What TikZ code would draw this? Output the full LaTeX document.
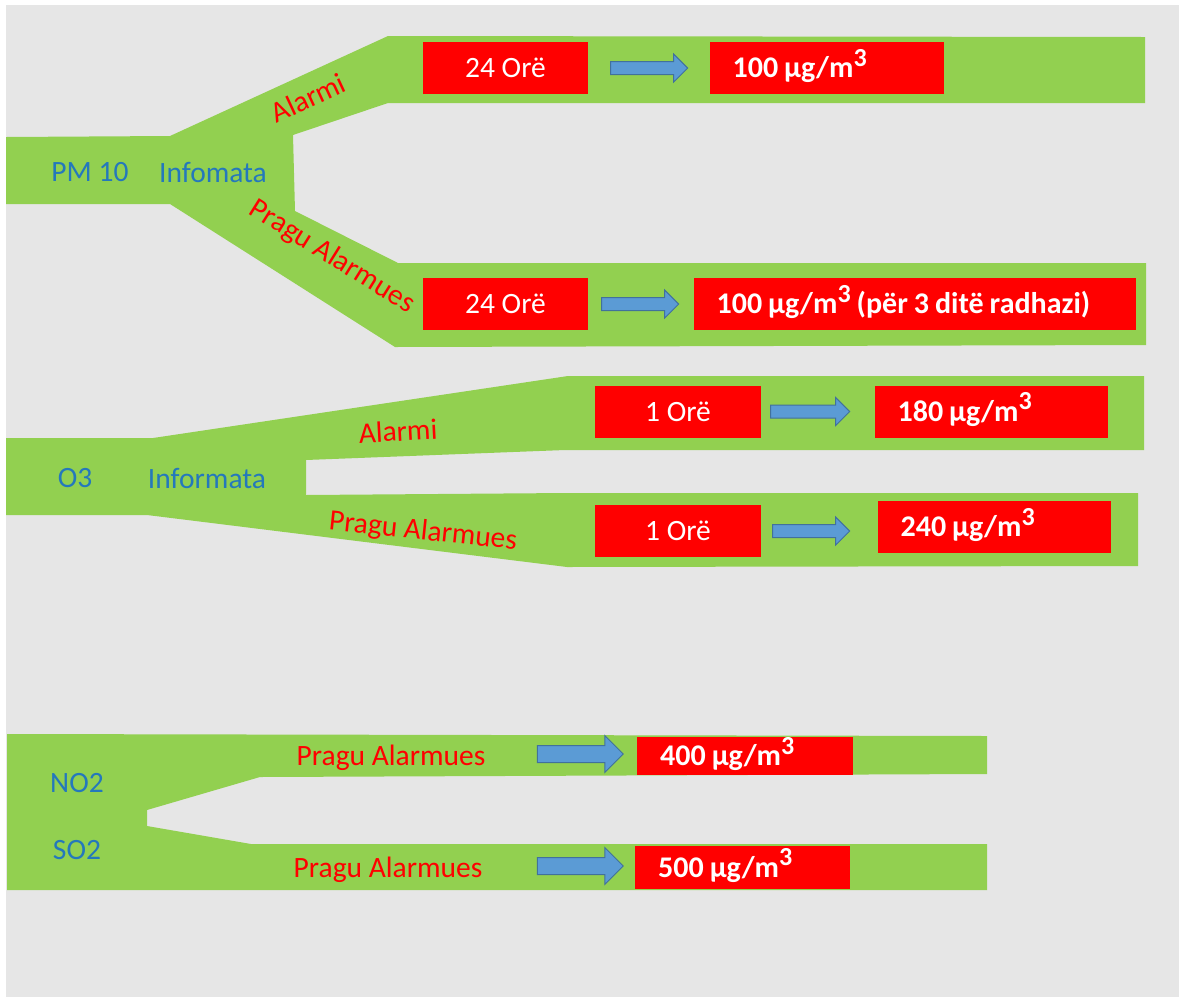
\documentclass[tikz,border=0pt]{standalone}
\usepackage{fontspec}
\setmainfont{Carlito}
\usetikzlibrary{positioning,shapes.arrows}

\definecolor{bandgreen}{HTML}{92D050}
\definecolor{boxred}{HTML}{FF0000}
\definecolor{labelblue}{HTML}{2478BC}
\definecolor{arrowfill}{HTML}{5B9BD5}
\definecolor{arrowline}{HTML}{41719C}
\definecolor{canvas}{HTML}{E6E6E6}

\newcommand{\cubed}{\raisebox{0.38em}{\fontsize{26}{26}\selectfont 3}}
\newcommand{\tightspace}{\spaceskip=0.2em\relax}

\begin{document}
\begin{tikzpicture}[
  x=1pt, y=-1pt,
  band/.style={fill=bandgreen},
  lbl/.style={font=\fontsize{29.5}{34}\selectfont, inner sep=0pt},
  gas/.style={lbl, text=labelblue},
  lvl/.style={lbl, text=boxred},
  tbox/.style={fill=boxred, text=white, minimum width=165pt, minimum height=52pt,
               inner sep=0pt, font=\fontsize{29.5}{34}\selectfont, text height=20pt, text depth=1pt},
  vbox/.style={fill=boxred, text=white, minimum height=52pt, inner xsep=23pt, inner ysep=0pt,
               align=left, font=\fontsize{30}{34}\selectfont\bfseries,
               execute at begin node=\tightspace, text height=20pt, text depth=1pt},
  arr/.style={single arrow, draw=arrowline, fill=arrowfill, line width=1pt, inner xsep=0pt,
              inner ysep=6pt, minimum height=77pt, single arrow head extend=7.5pt},
  bigarr/.style={arr, inner ysep=8pt, minimum height=86pt, single arrow head extend=10pt}
]
\useasboundingbox[fill=white] (0,0) rectangle (1179,997);
\fill[canvas] (6,5) rectangle (1179,997);

% green bands
\fill[band] (6,137) -- (170,136) -- (388,36) -- (1145,37) -- (1145,103) -- (388,103)
  -- (293,135) -- (295,211) -- (398,263) -- (1146,263) -- (1146,345) -- (395,347)
  -- (170,204) -- (6,204) -- cycle;
\fill[band] (6,438) -- (153,438) -- (568,376) -- (1144,376) -- (1144,450) -- (565,450)
  -- (306,460) -- (306,495) -- (568,493) -- (1138,493) -- (1138,566) -- (567,567)
  -- (147,515) -- (6,515) -- cycle;
\fill[band] (7,734) -- (987,736) -- (987,774) -- (260,777) -- (147,810) -- (147,826)
  -- (251,844) -- (987,844) -- (987,890) -- (7,890) -- cycle;

% PM 10
\node[gas] (pm) at (90,172) {PM 10};
\node[gas] (pmInfo) at (213,172) {Infomata};
\node[lvl, rotate=25] (pmAlarm) at (308,98) {Alarmi};
\node[lvl, rotate=-32] (pmPrag) at (332,257) {Pragu Alarmues};
\node[tbox] (pmT1) at (505.5,68) {24 Orë};
\node[arr, right=22pt of pmT1] (pmA1) {};
\node[vbox, text width=188pt, right=21pt of pmA1] (pmV1) {100 µg/m\cubed};
\node[tbox] (pmT2) at (505.5,304) {24 Orë};
\node[arr, right=13pt of pmT2] (pmA2) {};
\node[vbox, text width=396pt, right=14pt of pmA2] (pmV2) {100 µg/m\cubed{} (për 3 ditë radhazi)};

% O3
\node[gas] (o3) at (75,478) {O3};
\node[gas] (o3Info) at (207,478) {Informata};
\node[lvl, rotate=3] (o3Alarm) at (398,431) {Alarmi};
\node[lvl, rotate=-6] (o3Prag) at (423,532) {Pragu Alarmues};
\node[tbox, minimum width=166pt] (o3T1) at (678,411.5) {1 Orë};
\node[arr, minimum height=79pt, right=9pt of o3T1] (o3A1) {};
\node[vbox, text width=187pt, right=24pt of o3A1] (o3V1) {180 µg/m\cubed};
\node[tbox, minimum width=166pt] (o3T2) at (678,531) {1 Orë};
\node[arr, right=11pt of o3T2] (o3A2) {};
\node[vbox, text width=187pt, right=27pt of o3A2, yshift=4pt] (o3V2) {240 µg/m\cubed};

% NO2 / SO2
\node[gas] (no2) at (77,783) {NO2};
\node[gas] (so2) at (77,850) {SO2};
\node[lvl] (noPrag) at (391,758) {Pragu Alarmues};
\node[lvl] (soPrag) at (388,870) {Pragu Alarmues};
\node[bigarr] (noA) at (576,754) {};
\node[vbox, text width=170pt, minimum height=38pt, right=13pt of noA, yshift=-2pt] (noV) {400 µg/m\cubed};
\node[bigarr] (soA) at (576,866) {};
\node[vbox, text width=169pt, minimum height=43pt, right=11pt of soA, yshift=-1.5pt] (soV) {500 µg/m\cubed};
\end{tikzpicture}
\end{document}
